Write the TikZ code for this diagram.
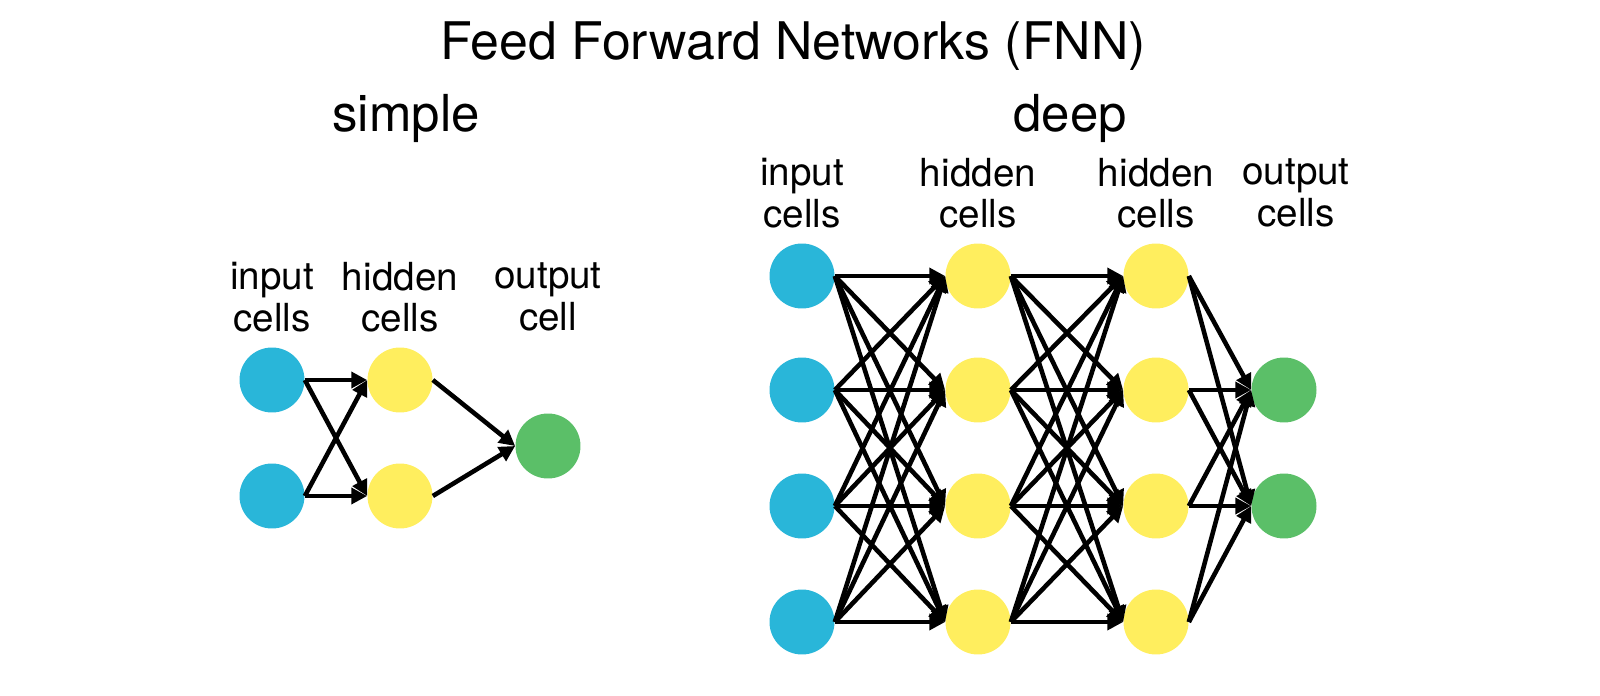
\documentclass[tikz,border=0pt]{standalone}
\usepackage{fontspec}
\setmainfont{TeX Gyre Heros}
\usetikzlibrary{arrows.meta}
\definecolor{cin}{HTML}{29B6D9}
\definecolor{chid}{HTML}{FFEE5E}
\definecolor{cout}{HTML}{5BBF68}
\begin{document}
\begin{tikzpicture}[x=0.02cm,y=-0.02cm,
  cell/.style={circle,minimum size=1.3cm,inner sep=0pt,draw=none},
  inp/.style={cell,fill=cin},hid/.style={cell,fill=chid},outp/.style={cell,fill=cout},
  lab/.style={align=center,font=\fontsize{22}{23.5}\selectfont},
  head/.style={font=\fontsize{29}{31}\selectfont},
  con/.style={line width=2.6pt,-{Triangle[length=9pt,width=9pt]}}]
\node[font=\fontsize{29.5}{31}\selectfont] (title) at (793,46) {Feed Forward Networks (FNN)};
\node[head] (hs) at (406,118) {simple};
\node[head] (hd) at (1070,118) {deep};
% simple
\node[lab] (l1) at (272,297) {input\\cells};
\node[lab] (l2) at (400,297) {hidden\\cells};
\node[lab] (l3) at (548,297) {output\\cell};
\node[inp] (a1) at (272,380) {};
\node[inp] (a2) at (272,496) {};
\node[hid] (b1) at (400,380) {};
\node[hid] (b2) at (400,496) {};
\node[outp] (c1) at (548,446) {};
\foreach \i in {1,2}{\foreach \j in {1,2}{\draw[con] (a\i.east) -- (b\j.west);}}
\foreach \i in {1,2}{\draw[con] (b\i.east) -- (c1.west);}
% deep
\node[lab] (m1) at (802,193) {input\\cells};
\node[lab] (m2) at (978,193) {hidden\\cells};
\node[lab] (m3) at (1156,193) {hidden\\cells};
\node[lab] (m4) at (1296,193) {output\\cells};
\foreach \k/\y in {1/276,2/390,3/506,4/622}{
  \node[inp] (p\k) at (802,\y) {};
  \node[hid] (q\k) at (978,\y) {};
  \node[hid] (r\k) at (1156,\y) {};
}
\node[outp] (s1) at (1284,390) {};
\node[outp] (s2) at (1284,506) {};
\foreach \i in {1,...,4}{\foreach \j in {1,...,4}{
  \draw[con] (p\i.east) -- (q\j.west);
  \draw[con] (q\i.east) -- (r\j.west);}
  \foreach \j in {1,2}{\draw[con] (r\i.east) -- (s\j.west);}}
\pgfresetboundingbox
\useasboundingbox (0,0) rectangle (1600,696);
\end{tikzpicture}
\end{document}
